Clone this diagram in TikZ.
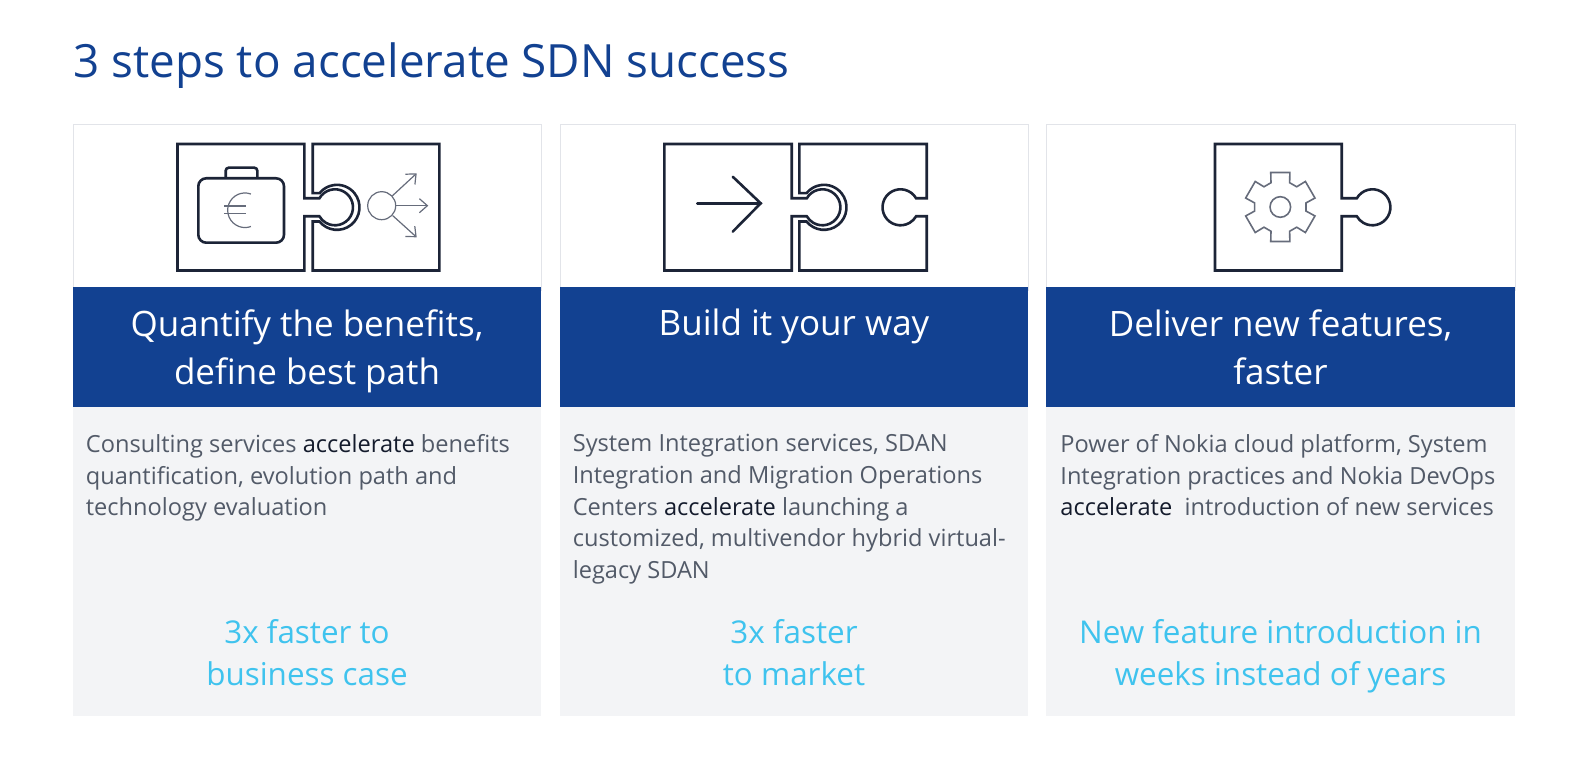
\documentclass[tikz,border=0pt]{standalone}
\usepackage{fontspec}
\setmainfont{Open Sans}
\usetikzlibrary{arrows.meta}
\definecolor{nokiablue}{HTML}{124191}
\definecolor{panelgrey}{HTML}{F3F4F6}
\definecolor{panelline}{HTML}{E2E4E9}
\definecolor{iconline}{HTML}{1C2437}
\definecolor{iconthin}{HTML}{666C7B}
\definecolor{bodygrey}{HTML}{525A68}
\definecolor{bodydark}{HTML}{141B2C}
\definecolor{gaincyan}{HTML}{3FC3EE}
\newcommand{\accel}{\textcolor{bodydark}{accelerate}}
\tikzset{
  steptitle/.style={anchor=base west,inner sep=0pt,text=nokiablue,font=\fontsize{22.9}{27}\selectfont},
  stephead/.style={anchor=north,inner sep=0pt,align=center,text=white,font=\fontsize{17.5}{24.3}\selectfont},
  stepbody/.style={anchor=north west,inner sep=0pt,align=left,text=bodygrey,font=\fontsize{11.8}{15.85}\selectfont},
  stepgain/.style={anchor=north,inner sep=0pt,align=center,text=gaincyan,font=\fontsize{15.7}{21.25}\selectfont},
  piece/.style={draw=iconline,line width=1.3pt},
  thinicon/.style={draw=iconthin,line width=0.6pt},
  thinarrow/.style={thinicon,-{Straight Barb[length=4pt,width=7pt]}}
}
\begin{document}
\begin{tikzpicture}[x=0.5pt,y=-0.5pt]
  \useasboundingbox (0,0) rectangle (1588,774);
  \node[steptitle] (title) at (73,78) {3 steps to accelerate SDN success};
  % panels
  \draw[panelline,fill=white] (73,124.5) rectangle (541,290);
  \draw[panelline,fill=white] (560,124.5) rectangle (1028,290);
  \draw[panelline,fill=white] (1046,124.5) rectangle (1515,290);
  \fill[panelgrey] (73,407) rectangle (541,716);
  \fill[panelgrey] (560,407) rectangle (1028,716);
  \fill[panelgrey] (1046,407) rectangle (1515,716);
  \fill[nokiablue] (73,287.5) rectangle (541,407);
  \fill[nokiablue] (560,287.5) rectangle (1028,407);
  \fill[nokiablue] (1046,287.5) rectangle (1515,407);
  % first puzzle
  \draw[piece] (177.5,144) -- (304.3,144) -- (304.3,198.3) -- (319.4,198.3)
    arc[start angle=210,end angle=510,radius=18] -- (304.3,216.3) -- (304.3,270.5) -- (177.5,270.5) -- cycle;
  \draw[piece] (312.7,144) -- (439.3,144) -- (439.3,270.5) -- (312.7,270.5) -- (312.7,221.5) -- (319.5,221.5)
    arc[start angle=141,end angle=-141,radius=22.5] -- (312.7,193.1) -- cycle;
  \draw[piece,rounded corners=4pt] (198.3,178.3) rectangle (284,242.7);
  \draw[piece,rounded corners=1.5pt] (225.7,178.3) -- (225.7,167.7) -- (257.3,167.7) -- (257.3,178.3);
  \draw[thinicon] (250.9,194) arc[start angle=-70,end angle=-290,radius=17.3];
  \draw[thinicon] (224,206) -- (246,206);
  \draw[thinicon] (224,213.3) -- (246,213.3);
  \node[circle,thinicon,minimum size=14pt,inner sep=0pt] (hub) at (381.7,205.7) {};
  \coordinate (outup) at (416.7,173.3);
  \coordinate (outmid) at (428.3,205.7);
  \coordinate (outdown) at (416.7,237.3);
  \draw[thinarrow] (hub) -- (outup);
  \draw[thinarrow] (hub) -- (outmid);
  \draw[thinarrow] (hub) -- (outdown);
  % second puzzle
  \draw[piece] (664.3,144) -- (791.7,144) -- (791.7,198.3) -- (806.8,198.3)
    arc[start angle=210,end angle=510,radius=18] -- (791.7,216.3) -- (791.7,270.5) -- (664.3,270.5) -- cycle;
  \draw[piece] (799.3,144) -- (926.7,144) -- (926.7,198.3) -- (916.1,198.3)
    arc[start angle=-30,end angle=-330,radius=18] -- (926.7,216.3) -- (926.7,270.5) -- (799.3,270.5) -- (799.3,221.5) -- (806.5,221.5)
    arc[start angle=141,end angle=-141,radius=22.5] -- (799.3,193.1) -- cycle;
  \draw[piece,line cap=round] (697.3,203.3) -- (760.7,203.3);
  \draw[piece,line cap=round] (732.7,176.7) -- (760.7,203.3) -- (732.7,231.7);
  % third puzzle
  \draw[piece] (1215,144) -- (1341.7,144) -- (1341.7,198.3) -- (1356.8,198.3)
    arc[start angle=210,end angle=510,radius=18] -- (1341.7,216.3) -- (1341.7,270.5) -- (1215,270.5) -- cycle;
  \begin{scope}[shift={(1280.3,207)}]
    \draw[thinicon,line width=0.8pt] (111:26) \foreach \a in {90,30,-30,-90,-150,-210} { -- (\a+21:26) -- (\a+15.5:35.8) -- (\a-15.5:35.8) -- (\a-21:26)} -- cycle;
    \draw[thinicon,line width=0.8pt] (0,0) circle[radius=10.3];
  \end{scope}
  % texts
  \node[stephead] (headone) at (307,309) {Quantify the benefits,\\define best path};
  \node[stephead] (headtwo) at (794,309) {Build it your way};
  \node[stephead] (headthree) at (1280.5,309) {Deliver new features,\\faster};
  \node[stepbody] (bodyone) at (85.5,434) {Consulting services \accel{} benefits\\quantification, evolution path and\\technology evaluation};
  \node[stepbody] (bodytwo) at (572.4,434) {System Integration services, SDAN\\Integration and Migration Operations\\Centers \accel{} launching a\\customized, multivendor hybrid virtual-\\legacy SDAN};
  \node[stepbody] (bodythree) at (1060,434) {Power of Nokia cloud platform, System\\Integration practices and Nokia DevOps\\\accel\ \ introduction of new services};
  \node[stepgain] (gainone) at (307,619) {3x faster to\\business case};
  \node[stepgain] (gaintwo) at (794,619) {3x faster\\to market};
  \node[stepgain] (gainthree) at (1280.5,619) {New feature introduction in\\weeks instead of years};
\end{tikzpicture}
\end{document}
